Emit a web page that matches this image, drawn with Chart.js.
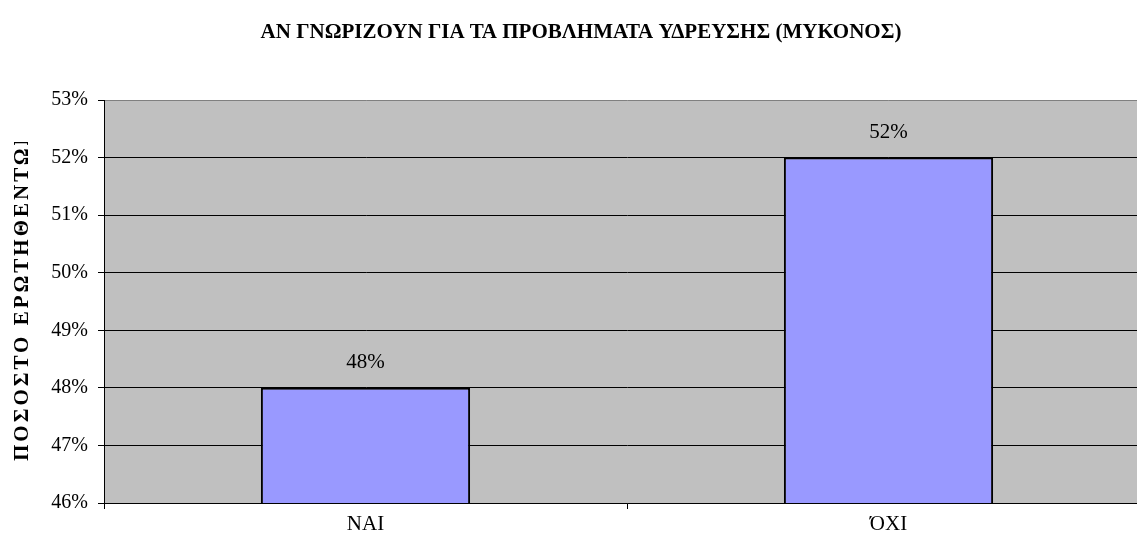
<!DOCTYPE html>
<html>
<head>
<meta charset="utf-8">
<script src="https://cdn.jsdelivr.net/npm/chart.js@4/dist/chart.umd.min.js"></script>
<style>
  html, body { margin: 0; padding: 0; background: #fff; overflow: hidden; }
  #wrap { width: 1170px; height: 550px; position: relative; }
</style>
</head>
<body>
<div id="wrap"><canvas id="surveyChart"></canvas></div>
<script>
// data
const chartTitle = 'ΑΝ ΓΝΩΡΙΖΟΥΝ ΓΙΑ ΤΑ ΠΡΟΒΛΗΜΑΤΑ ΥΔΡΕΥΣΗΣ (ΜΥΚΟΝΟΣ)';
const yAxisTitle = 'ΠΟΣΟΣΤΟ ΕΡΩΤΗΘΕΝΤΩΝ';
const answers = ['ΝΑΙ', 'ΌΧΙ'];
const percentValues = [48, 52];
const yRange = [46, 53];

const serif = '"Liberation Serif", "DejaVu Serif", serif';

// grey plot area behind the bars
const plotBackground = {
  id: 'plotBackground',
  beforeDraw(chart) {
    const { ctx, chartArea } = chart;
    ctx.save();
    ctx.fillStyle = '#C0C0C0';
    ctx.fillRect(chartArea.left, chartArea.top, chartArea.right - chartArea.left, chartArea.bottom - chartArea.top);
    ctx.restore();
  }
};

// value labels above the bars
const barValueLabels = {
  id: 'barValueLabels',
  afterDatasetsDraw(chart) {
    const { ctx } = chart;
    const meta = chart.getDatasetMeta(0);
    ctx.save();
    ctx.font = '21px ' + serif;
    ctx.fillStyle = '#000';
    ctx.textAlign = 'center';
    ctx.textBaseline = 'middle';
    meta.data.forEach(function (bar, i) {
      ctx.fillText(percentValues[i] + '%', bar.x, bar.y - 25);
    });
    ctx.restore();
  }
};

// rotated axis title (cut off at the top like the original)
const yTitle = {
  id: 'yTitle',
  afterDraw(chart) {
    const { ctx } = chart;
    ctx.save();
    ctx.beginPath();
    ctx.rect(0, 142, 60, 330);
    ctx.clip();
    ctx.translate(23, 461);
    ctx.rotate(-Math.PI / 2);
    ctx.font = 'bold 21px ' + serif;
    ctx.letterSpacing = '3px';
    ctx.fillStyle = '#000';
    ctx.textAlign = 'left';
    ctx.textBaseline = 'middle';
    ctx.fillText(yAxisTitle, 0, 0);
    ctx.restore();
  }
};

new Chart(document.getElementById('surveyChart'), {
  type: 'bar',
  data: {
    labels: answers,
    datasets: [{
      data: percentValues,
      backgroundColor: '#9999FF',
      borderColor: '#000000',
      borderWidth: 2,
      borderSkipped: false,
      categoryPercentage: 1.0,
      barPercentage: 0.4
    }]
  },
  options: {
    responsive: true,
    maintainAspectRatio: false,
    animation: false,
    layout: { padding: { left: 12, right: 20, top: 0, bottom: 0 } },
    plugins: {
      legend: { display: false },
      tooltip: { enabled: false },
      title: {
        display: true,
        text: chartTitle,
        color: '#000',
        font: { family: serif, size: 21, weight: 'bold', lineHeight: 1.2 },
        padding: { top: 20, bottom: 54.8 }
      }
    },
    scales: {
      x: {
        afterFit(scale) { scale.height = 47; },
        grid: {
          display: true,
          drawOnChartArea: false,
          drawTicks: true,
          tickLength: 6,
          tickColor: '#000',
          offset: true
        },
        border: { display: true, color: '#000', width: 1 },
        ticks: {
          color: '#000',
          padding: 3,
          font: { family: serif, size: 21 }
        }
      },
      y: {
        min: yRange[0],
        max: yRange[1],
        afterFit(scale) { scale.width = 92; },
        grid: {
          color: function (c) { return c.tick && c.tick.value === yRange[1] ? '#808080' : '#000'; },
          lineWidth: 1,
          drawTicks: true,
          tickLength: 6,
          tickColor: '#000'
        },
        border: { display: true, color: '#000', width: 1 },
        ticks: {
          stepSize: 1,
          color: '#000',
          padding: 10,
          font: { family: serif, size: 20 },
          callback: function (v) { return v + '%'; }
        }
      }
    }
  },
  plugins: [plotBackground, barValueLabels, yTitle]
});
</script>
</body>
</html>
